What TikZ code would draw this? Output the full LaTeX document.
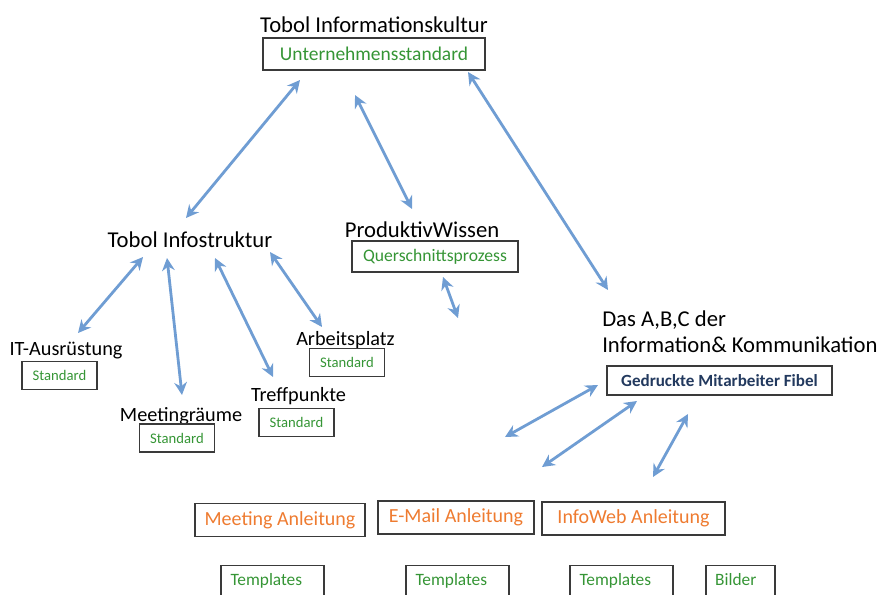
\documentclass[tikz,border=0pt]{standalone}
\usepackage{fontspec}
\setmainfont{Carlito}
\usepackage{tikz}
\usetikzlibrary{arrows.meta}
\definecolor{tbblue}{HTML}{6F9DD3}
\definecolor{tbgreen}{HTML}{359535}
\definecolor{tborange}{HTML}{EE7B30}
\definecolor{tbnavy}{HTML}{22395E}
\definecolor{tbgray}{HTML}{3A3A3A}

\begin{document}
\begin{tikzpicture}[x=0.75pt,y=-0.75pt,
  lbl/.style={inner sep=0pt,anchor=base,font=\fontsize{17}{20.4}\selectfont},
  sublbl/.style={inner sep=0pt,anchor=base,font=\fontsize{15.2}{18}\selectfont},
  box/.style={draw=tbgray,line width=1.1pt,inner sep=0pt},
  stdbox/.style={box,text=tbgreen,font=\fontsize{11}{13}\selectfont,minimum width=56pt,minimum height=21pt},
  guidebox/.style={box,text=tborange,font=\fontsize{15}{18}\selectfont,minimum height=25pt},
  tplbox/.style={box,anchor=north,text=tbgreen,font=\fontsize{13}{15}\selectfont,align=left,inner xsep=7pt,inner ysep=6pt,text depth=30pt},
  link/.style={{Stealth[length=9.5pt,width=9.5pt]}-{Stealth[length=9.5pt,width=9.5pt]},tbblue,line width=2.1pt}]
  \useasboundingbox (0,0) rectangle (880,594);
  \clip (0,0) rectangle (880,594);

  \node[lbl] (kultur) at (374,32) {Tobol Informationskultur};
  \node[box,text=tbgreen,font=\fontsize{14.6}{17}\selectfont,minimum width=166.5pt,minimum height=24pt] (kulturbox) at (374,54) {Unternehmensstandard};

  \node[lbl] (infostr) at (190,247.5) {Tobol Infostruktur};
  \node[lbl] (produktiv) at (422,237.5) {ProduktivWissen};
  \node[box,text=tbgreen,font=\fontsize{13.2}{16}\selectfont,minimum width=124.5pt,minimum height=23pt] (querbox) at (435,256.5) {Querschnittsprozess};
  \node[lbl,anchor=base west] (abc) at (602,326.5) {Das A,B,C der};
  \node[lbl,anchor=base west] (abc2) at (602,352.5) {Information\& Kommunikation};
  \node[box,text=tbnavy,font=\bfseries\fontsize{12.8}{15}\selectfont,minimum width=169pt,minimum height=22pt] (fibel) at (719.5,380.5) {Gedruckte Mitarbeiter Fibel};

  \node[sublbl] (itlbl) at (66,355) {IT-Ausrüstung};
  \node[stdbox] (itbox) at (59.5,375.5) {Standard};
  \node[sublbl] (meetlbl) at (181,421) {Meetingräume};
  \node[stdbox] (meetbox) at (177,438) {Standard};
  \node[sublbl] (trefflbl) at (298.5,401) {Treffpunkte};
  \node[stdbox] (treffbox) at (296.5,422.5) {Standard};
  \node[sublbl] (arblbl) at (345.5,345) {Arbeitsplatz};
  \node[stdbox] (arbbox) at (347,362.5) {Standard};

  \node[guidebox,minimum width=127.5pt] (meetanl) at (280,520) {Meeting Anleitung};
  \node[guidebox,minimum width=117pt] (mailanl) at (456,517.5) {E-Mail Anleitung};
  \node[guidebox,minimum width=137pt] (webanl) at (633.5,518.5) {InfoWeb Anleitung};
  \node[tplbox,text width=63pt] (tpl1) at (272.5,565) {Templates};
  \node[tplbox,text width=63pt] (tpl2) at (457.5,565) {Templates};
  \node[tplbox,text width=63pt] (tpl3) at (621.5,565) {Templates};
  \node[tplbox,text width=38pt] (bilder) at (740.5,565) {Bilder};

  \coordinate (kultur-l) at (300,80);
  \coordinate (kultur-m) at (355,95);
  \coordinate (kultur-r) at (468,72);
  \coordinate (infostr-t) at (186,218);
  \coordinate (produktiv-t) at (412,209);
  \coordinate (abc-t) at (608,290);
  \coordinate (infostr-1) at (143,257);
  \coordinate (infostr-2) at (167,258);
  \coordinate (infostr-3) at (215,258);
  \coordinate (infostr-4) at (270,252);
  \coordinate (it-t) at (78,333);
  \coordinate (meet-t) at (182,395);
  \coordinate (treff-t) at (273,377);
  \coordinate (arb-t) at (322,327);
  \coordinate (quer-b) at (443,277);
  \coordinate (quer-e) at (458,318);
  \coordinate (fibel-1) at (598,385);
  \coordinate (fibel-2) at (637,401);
  \coordinate (fibel-3) at (688,414);
  \coordinate (fibel-e1) at (505,437);
  \coordinate (fibel-e2) at (542,467);
  \coordinate (fibel-e3) at (653,477);

  \draw[link] (kultur-l) -- (infostr-t);
  \draw[link] (kultur-m) -- (produktiv-t);
  \draw[link] (kultur-r) -- (abc-t);
  \draw[link] (infostr-1) -- (it-t);
  \draw[link] (infostr-2) -- (meet-t);
  \draw[link] (infostr-3) -- (treff-t);
  \draw[link] (infostr-4) -- (arb-t);
  \draw[link] (quer-b) -- (quer-e);
  \draw[link] (fibel-1) -- (fibel-e1);
  \draw[link] (fibel-2) -- (fibel-e2);
  \draw[link] (fibel-3) -- (fibel-e3);
\end{tikzpicture}
\end{document}
